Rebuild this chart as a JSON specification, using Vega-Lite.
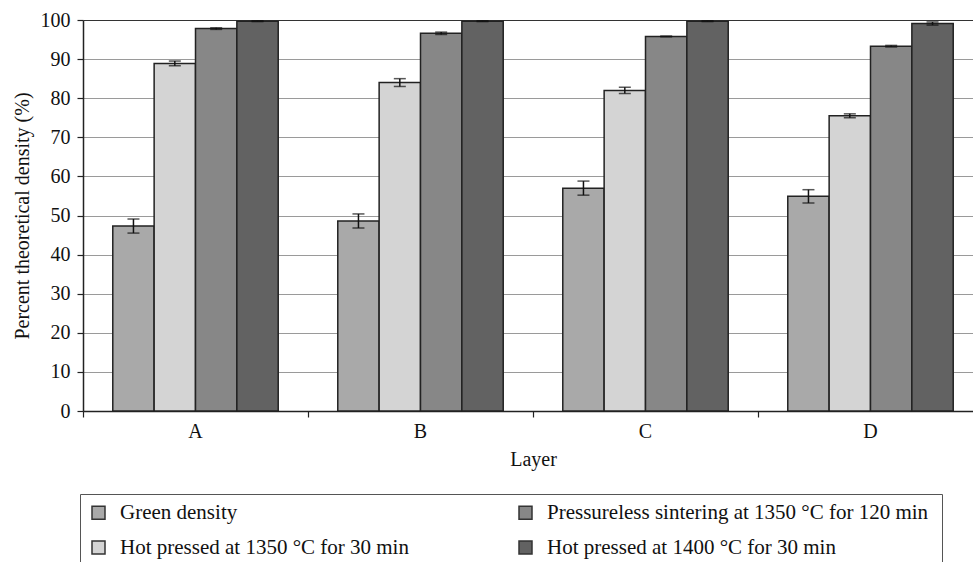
{
  "$schema": "https://vega.github.io/schema/vega-lite/v6.json",
  "autosize": {"type": "none"},
  "width": 890,
  "height": 391,
  "padding": {"left": 83, "top": 20, "right": 0, "bottom": 151},
  "background": "white",
  "config": {
    "font": "Liberation Serif",
    "view": {"stroke": null},
    "axis": {
      "labelFont": "Liberation Serif",
      "titleFont": "Liberation Serif",
      "labelFontSize": 20,
      "titleFontSize": 20,
      "titleFontWeight": "normal",
      "labelColor": "#111",
      "titleColor": "#111",
      "domainColor": "#222",
      "tickColor": "#222",
      "domainWidth": 1.5,
      "tickWidth": 1.2,
      "tickSize": 6
    },
    "legend": {"labelFont": "Liberation Serif"}
  },
  "data": {
    "values": [
      {"layer": "A", "process": "Green density", "value": 47.3, "lo": 45.5, "hi": 49.1},
      {"layer": "A", "process": "Hot pressed at 1350 °C for 30 min", "value": 88.9, "lo": 88.3, "hi": 89.5},
      {"layer": "A", "process": "Pressureless sintering at 1350 °C  for 120 min", "value": 97.8, "lo": 97.6, "hi": 98.0},
      {"layer": "A", "process": "Hot pressed at 1400 °C for 30 min", "value": 99.7, "lo": 99.6, "hi": 99.8},
      {"layer": "B", "process": "Green density", "value": 48.6, "lo": 46.8, "hi": 50.4},
      {"layer": "B", "process": "Hot pressed at 1350 °C for 30 min", "value": 84.0, "lo": 83.0, "hi": 85.0},
      {"layer": "B", "process": "Pressureless sintering at 1350 °C  for 120 min", "value": 96.6, "lo": 96.3, "hi": 96.9},
      {"layer": "B", "process": "Hot pressed at 1400 °C for 30 min", "value": 99.7, "lo": 99.6, "hi": 99.8},
      {"layer": "C", "process": "Green density", "value": 57.0, "lo": 55.2, "hi": 58.8},
      {"layer": "C", "process": "Hot pressed at 1350 °C for 30 min", "value": 82.0, "lo": 81.2, "hi": 82.8},
      {"layer": "C", "process": "Pressureless sintering at 1350 °C  for 120 min", "value": 95.8, "lo": 95.7, "hi": 95.9},
      {"layer": "C", "process": "Hot pressed at 1400 °C for 30 min", "value": 99.7, "lo": 99.6, "hi": 99.8},
      {"layer": "D", "process": "Green density", "value": 54.9, "lo": 53.2, "hi": 56.6},
      {"layer": "D", "process": "Hot pressed at 1350 °C for 30 min", "value": 75.5, "lo": 75.0, "hi": 76.0},
      {"layer": "D", "process": "Pressureless sintering at 1350 °C  for 120 min", "value": 93.3, "lo": 93.1, "hi": 93.5},
      {"layer": "D", "process": "Hot pressed at 1400 °C for 30 min", "value": 99.1, "lo": 98.7, "hi": 99.5}
    ]
  },
  "encoding": {
    "x": {
      "field": "layer",
      "type": "nominal",
      "scale": {"range": [0, 900], "paddingInner": 0, "paddingOuter": 0},
      "axis": {
        "title": "Layer",
        "labelAngle": 0,
        "labelPadding": 4,
        "titlePadding": 8,
        "bandPosition": 0,
        "grid": false
      }
    },
    "xOffset": {
      "field": "process",
      "type": "nominal",
      "scale": {
        "domain": ["Green density", "Hot pressed at 1350 °C for 30 min", "Pressureless sintering at 1350 °C  for 120 min", "Hot pressed at 1400 °C for 30 min"],
        "paddingInner": 0,
        "paddingOuter": 0.72
      }
    }
  },
  "layer": [
    {
      "mark": {"type": "bar", "stroke": "#222", "strokeWidth": 1.5},
      "encoding": {
        "y": {
          "field": "value",
          "type": "quantitative",
          "scale": {"domain": [0, 100], "nice": false, "zero": true},
          "axis": {
            "title": "Percent theoretical density (%)",
            "values": [0, 10, 20, 30, 40, 50, 60, 70, 80, 90, 100],
            "labelOverlap": false,
            "grid": true,
            "gridColor": {"condition": {"test": "datum.value === 100", "value": "#333"}, "value": "#9a9a9a"},
            "gridWidth": 1.2,
            "labelPadding": 7,
            "titlePadding": 8
          }
        },
        "color": {
          "field": "process",
          "type": "nominal",
          "scale": {
            "domain": ["Green density", "Hot pressed at 1350 °C for 30 min", "Pressureless sintering at 1350 °C  for 120 min", "Hot pressed at 1400 °C for 30 min"],
            "range": ["#a9a9a9", "#d4d4d4", "#878787", "#626262"]
          },
          "legend": {
            "orient": "none",
            "legendX": -3,
            "legendY": 474,
            "columns": 2,
            "title": null,
            "symbolType": "square",
            "symbolSize": 169,
            "symbolStrokeColor": "#333",
            "symbolStrokeWidth": 1.5,
            "symbolOpacity": 1,
            "labelFontSize": 21,
            "labelColor": "#111",
            "labelOffset": 11,
            "labelLimit": 0,
            "columnPadding": 106,
            "rowPadding": 13,
            "padding": 8,
            "strokeColor": "#555"
          }
        }
      }
    },
    {
      "mark": {"type": "rule", "color": "#111", "strokeWidth": 1.5},
      "encoding": {
        "y": {
          "field": "lo",
          "type": "quantitative",
          "axis": {
            "title": "Percent theoretical density (%)",
            "values": [0, 10, 20, 30, 40, 50, 60, 70, 80, 90, 100],
            "labelOverlap": false,
            "grid": true,
            "gridColor": {"condition": {"test": "datum.value === 100", "value": "#333"}, "value": "#9a9a9a"},
            "gridWidth": 1.2,
            "labelPadding": 7,
            "titlePadding": 8
          }
        },
        "y2": {"field": "hi"}
      }
    },
    {
      "mark": {"type": "tick", "color": "#111", "thickness": 1.5, "size": 12},
      "encoding": {
        "y": {
          "field": "lo",
          "type": "quantitative",
          "axis": {
            "title": "Percent theoretical density (%)",
            "values": [0, 10, 20, 30, 40, 50, 60, 70, 80, 90, 100],
            "labelOverlap": false,
            "grid": true,
            "gridColor": {"condition": {"test": "datum.value === 100", "value": "#333"}, "value": "#9a9a9a"},
            "gridWidth": 1.2,
            "labelPadding": 7,
            "titlePadding": 8
          }
        }
      }
    },
    {
      "mark": {"type": "tick", "color": "#111", "thickness": 1.5, "size": 12},
      "encoding": {
        "y": {
          "field": "hi",
          "type": "quantitative",
          "axis": {
            "title": "Percent theoretical density (%)",
            "values": [0, 10, 20, 30, 40, 50, 60, 70, 80, 90, 100],
            "labelOverlap": false,
            "grid": true,
            "gridColor": {"condition": {"test": "datum.value === 100", "value": "#333"}, "value": "#9a9a9a"},
            "gridWidth": 1.2,
            "labelPadding": 7,
            "titlePadding": 8
          }
        }
      }
    }
  ]
}
